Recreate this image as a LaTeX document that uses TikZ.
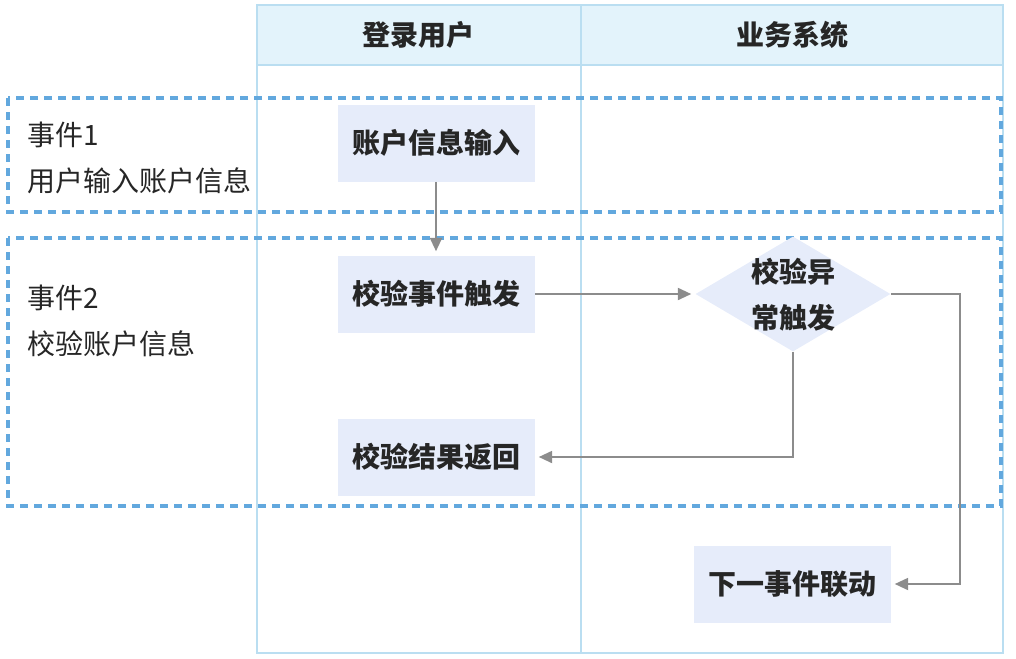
\documentclass[tikz,border=0pt]{standalone}
\usepackage{fontspec}
\setmainfont{Noto Sans CJK SC}
\usetikzlibrary{shapes.geometric,arrows.meta}
\definecolor{hdrfill}{HTML}{E3F3FB}
\definecolor{lanebd}{HTML}{BADEF1}
\definecolor{dashc}{HTML}{62A8DE}
\definecolor{boxfill}{HTML}{E6ECFA}
\definecolor{txt}{HTML}{262626}
\definecolor{arrc}{HTML}{8C8C8C}
\tikzset{
  stepbox/.style={rectangle, fill=boxfill, draw=none, minimum width=197*0.75pt, minimum height=77*0.75pt, inner sep=0pt, text=txt, font=\bfseries\fontsize{21}{34}\selectfont},
  decbox/.style={diamond, fill=boxfill, draw=none, minimum width=195*0.75pt, minimum height=115*0.75pt, inner sep=0pt},
  dectext/.style={text=txt, font=\bfseries\fontsize{21}{34.5}\selectfont, align=center, inner sep=0pt},
  hdrtext/.style={text=txt, font=\bfseries\fontsize{21}{34}\selectfont, inner sep=0pt},
  evtext/.style={text=txt, font=\fontsize{21}{35}\selectfont, align=left, anchor=west, inner sep=0pt},
  evbox/.style={draw=dashc, line width=2.8pt, dash pattern=on 6pt off 4.5pt},
  conn/.style={draw=arrc, line width=1.4pt, -{Triangle[length=10pt,width=9pt]}, shorten >=3pt},
}
\begin{document}
\begin{tikzpicture}[x=0.75pt,y=-0.75pt]
\useasboundingbox (0,0) rectangle (1016,658);
% swimlanes
\fill[hdrfill] (257,5) rectangle (1003,65);
\draw[lanebd, line width=1.2pt] (257,5) rectangle (1003,653);
\draw[lanebd, line width=1.2pt] (257,65) -- (1003,65);
\draw[lanebd, line width=1.2pt] (581,5) -- (581,653);
\node[hdrtext] (h1) at (418,35) {登录用户};
\node[hdrtext] (h2) at (792,35) {业务系统};
% event boxes
\draw[evbox] (8,98) rectangle (1001,212);
\draw[evbox] (8,238) rectangle (1001,506);
\node[evtext] (e1) at (27,158) {事件1\\用户输入账户信息};
\node[evtext] (e2) at (27,321) {事件2\\校验账户信息};
% nodes
\node[stepbox] (a) at (436,143) {账户信息输入};
\node[stepbox] (b) at (436,294) {校验事件触发};
\node[stepbox] (c) at (436,457) {校验结果返回};
\node[decbox] (d) at (793,294) {};
\node[dectext] (dt) at (793,295) {校验异\\常触发};
\node[stepbox] (f) at (792,584) {下一事件联动};
% connectors
\draw[conn] (a.south) -- (b.north);
\draw[conn] (b.east) -- (d.west);
\draw[conn] (d.south) |- (c.east);
\coordinate (r) at (960,294);
\draw[conn] (d.east) -- (r) |- (f.east);
\end{tikzpicture}
\end{document}
